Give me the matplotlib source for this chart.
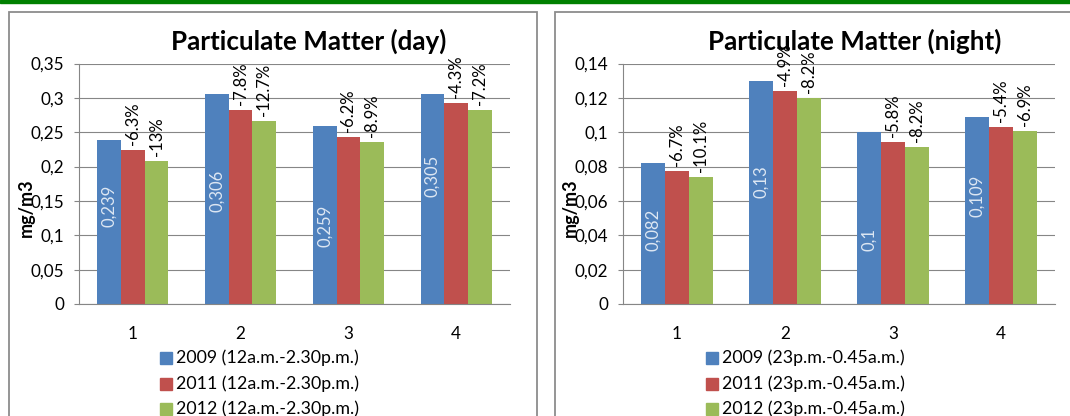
import matplotlib
matplotlib.use('Agg')
import numpy as np
import matplotlib.pyplot as plt
from matplotlib.patches import Rectangle
from matplotlib.ticker import MultipleLocator, FuncFormatter

categories = ['1', '2', '3', '4']

day_2009 = [0.239, 0.306, 0.259, 0.305]
day_2011 = [0.224, 0.282, 0.243, 0.292]
day_2012 = [0.208, 0.267, 0.236, 0.283]
day_change_2011 = ['-6.3%', '-7.8%', '-6.2%', '-4.3%']
day_change_2012 = ['-13%', '-12.7%', '-8.9%', '-7.2%']
day_legend = ['2009 (12a.m.-2.30p.m.)', '2011 (12a.m.-2.30p.m.)', '2012 (12a.m.-2.30p.m.)']

night_2009 = [0.082, 0.13, 0.1, 0.109]
night_2011 = [0.0775, 0.124, 0.0943, 0.1031]
night_2012 = [0.0738, 0.120, 0.0912, 0.1005]
night_change_2011 = ['-6.7%', '-4.9%', '-5.8%', '-5.4%']
night_change_2012 = ['-10.1%', '-8.2%', '-8.2%', '-6.9%']
night_legend = ['2009 (23p.m.-0.45a.m.)', '2011 (23p.m.-0.45a.m.)', '2012 (23p.m.-0.45a.m.)']

colours = ['#4f81bd', '#c0504d', '#9bbb59']
grid_colour = '#868686'

W, H = 1070, 416
plt.rcParams['font.family'] = ['Lato', 'DejaVu Sans']


def fx(x):
    return x / W


def fy(y):
    return 1 - y / H


def comma(v, _=None):
    return f'{v:g}'.replace('.', ',')


def add_frame(fig, left, right):
    # chart area border, runs off the bottom of the page
    fig.patches.append(Rectangle((fx(left), fy(H + 10)), fx(right - left), (H + 10 - 12) / H,
                                 transform=fig.transFigure, fill=False,
                                 edgecolor='#8c8c8c', lw=1.3))


def add_panel(fig, left, right, title, title_x, series, changes, value_y, ymax, step,
              legend_labels, legend_x):
    top, zero = 63.5, 304
    ax = fig.add_axes([fx(left), fy(zero), fx(right - left), (zero - top) / H])
    x = np.arange(len(categories))
    width = 0.22
    for i, values in enumerate(series):
        ax.bar(x + (i - 1) * width, values, width, color=colours[i], zorder=2)

    # year-on-year change above the 2011 and 2012 bars
    for i, labels in enumerate(changes, start=1):
        for j, txt in enumerate(labels):
            ax.annotate(txt, (x[j] + (i - 1) * width, series[i][j]), xytext=(0, 5),
                        textcoords='offset pixels', rotation=90, ha='center', va='bottom',
                        fontsize=12, zorder=3)
    # 2009 values written inside the bars
    for j, v in enumerate(series[0]):
        ax.text(x[j] - width, value_y[j], comma(v), rotation=90, ha='center', va='center',
                color='#dde7f3', fontsize=12, zorder=3)

    ax.set_xlim(-0.5, len(categories) - 0.5)
    ax.set_ylim(0, ymax)
    ax.yaxis.set_major_locator(MultipleLocator(step))
    ax.yaxis.set_major_formatter(FuncFormatter(comma))
    ax.set_xticks(x)
    ax.set_xticklabels(categories)
    ax.grid(axis='y', color=grid_colour, lw=0.8, zorder=0)
    for side in ['top', 'right']:
        ax.spines[side].set_visible(False)
    for side in ['left', 'bottom']:
        ax.spines[side].set_color(grid_colour)
        ax.spines[side].set_linewidth(0.8)
    ax.tick_params(axis='y', length=3.6, color=grid_colour, pad=7, labelsize=12.3)
    ax.tick_params(axis='x', length=0, pad=16, labelsize=12.3)
    ax.set_ylabel('mg/m3', fontsize=13, fontweight='bold')
    ax.yaxis.set_label_coords(-0.102, 0.40)

    fig.text(fx(title_x), fy(50), title, ha='center', va='baseline', fontsize=18.7,
             fontweight='bold')

    for i, label in enumerate(legend_labels):
        yc = 358 + i * 25.5
        fig.patches.append(Rectangle((fx(legend_x), fy(yc + 6)), fx(12), 12 / H,
                                     transform=fig.transFigure, color=colours[i]))
        fig.text(fx(legend_x + 16), fy(yc), label, ha='left', va='center', fontsize=12.8)
    return ax


fig = plt.figure(figsize=(W / 100, H / 100), dpi=100)
fig.patches.append(Rectangle((0, fy(2.5)), 1, 2.5 / H, transform=fig.transFigure,
                             color='#008000'))
add_frame(fig, 9, 537)
add_frame(fig, 555, W + 10)

add_panel(fig, 79, 510, 'Particulate Matter (day)', 309,
          [day_2009, day_2011, day_2012], [day_change_2011, day_change_2012],
          [0.143, 0.164, 0.1135, 0.187], 0.35, 0.05, day_legend, 160)
add_panel(fig, 623, 1055, 'Particulate Matter (night)', 855,
          [night_2009, night_2011, night_2012], [night_change_2011, night_change_2012],
          [0.0433, 0.071, 0.0373, 0.0629], 0.14, 0.02, night_legend, 706)

fig.savefig('out.png', dpi=100)
